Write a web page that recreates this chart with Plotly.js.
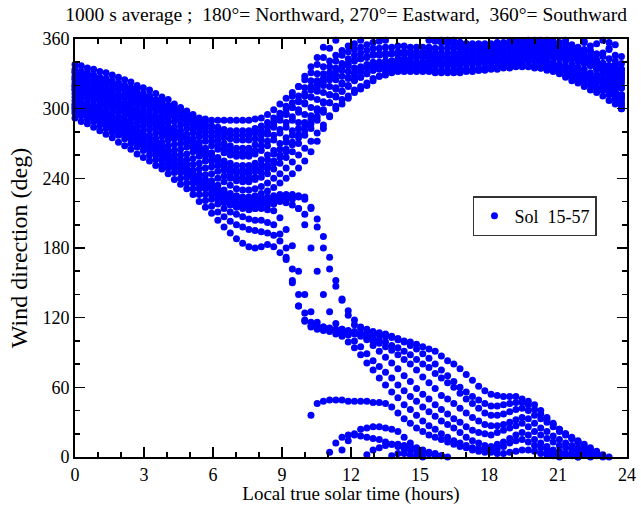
<!DOCTYPE html>
<html>
<head>
<meta charset="utf-8">
<script src="https://cdn.plot.ly/plotly-3.0.1.min.js"></script>
<style>
  html, body { margin: 0; padding: 0; background: #fff; }
  #chart { width: 641px; height: 505px; }
</style>
</head>
<body>
<div id="chart"></div>
<script>
// Local true solar time of each 1000 s average (hours)
const hours = [0,0.27,0.54,0.81,1.08,1.35,1.62,1.89,2.16,2.43,
  2.7,2.97,3.24,3.51,3.78,4.05,4.32,4.59,4.86,5.13,
  5.4,5.67,5.94,6.21,6.48,6.75,7.02,7.29,7.56,7.83,
  8.1,8.37,8.64,8.91,9.18,9.45,9.72,9.99,10.26,10.53,
  10.8,11.07,11.34,11.61,11.88,12.15,12.42,12.69,12.96,13.23,
  13.5,13.77,14.04,14.31,14.58,14.85,15.12,15.39,15.66,15.93,
  16.2,16.47,16.74,17.01,17.28,17.55,17.82,18.09,18.36,18.63,
  18.9,19.17,19.44,19.71,19.98,20.25,20.52,20.79,21.06,21.33,
  21.6,21.87,22.14,22.41,22.68,22.95,23.22,23.49,23.76];

// Wind direction (deg) per sol, one value per 1000 s average
const dir01 = [338,337,335,334,332,331,329,327,325,323,
  320,318,316,313,310,308,304,301,298,295,
  292,291,290,290,290,290,290,290,290,291,
  292,295,299,304,309,314,319,325,331,338,
  344,352,359,6,14,20,24,25,26,26,
  25,24,22,17,12,8,5,3,1,359,
  357,356,355,355,355,356,356,356,357,357,
  358,358,358,359,359,359,359,358,357,356,
  354,353,351,349,347,345,343,341,339];
const dir02 = [334,332,331,329,327,326,324,322,320,318,
  316,313,311,308,306,303,301,298,295,293,
  290,288,285,284,282,281,281,281,281,283,
  285,288,292,296,300,305,311,318,324,330,
  336,341,346,350,354,356,359,2,6,8,
  10,11,11,10,9,7,6,4,3,1,
  359,358,357,356,355,354,353,352,352,352,
  352,352,353,353,354,353,352,351,350,349,
  348,346,345,343,341,339,337,335,334];
const dir03 = [331,329,328,326,324,322,321,319,316,314,
  312,309,307,304,302,300,297,294,291,289,
  286,283,280,277,275,274,273,273,273,274,
  277,280,284,290,295,301,307,313,319,324,
  330,336,341,346,349,351,353,355,357,358,
  359,1,3,3,2,1,0,359,358,357,
  356,355,354,352,351,351,350,350,350,350,
  350,350,350,349,349,348,347,346,345,344,
  343,341,340,338,337,336,334,332,331];
const dir04 = [328,326,325,323,321,319,317,316,313,311,
  309,306,304,301,299,296,294,291,288,286,
  283,280,276,273,270,268,266,266,266,269,
  273,278,286,294,302,311,319,328,336,344,
  353,4,12,17,19,19,18,17,16,15,
  13,11,9,7,6,5,4,3,2,1,
  0,359,357,356,356,355,355,355,356,356,
  357,357,358,358,358,357,356,355,354,352,
  351,349,347,345,342,339,336,332,328];
const dir05 = [325,323,321,319,317,315,313,311,309,306,
  304,302,299,297,294,292,289,286,283,279,
  276,272,268,265,262,260,259,259,259,261,
  264,268,273,279,284,290,297,304,310,317,
  323,328,333,336,339,342,343,344,346,346,
  346,347,347,347,347,346,346,346,345,345,
  345,345,346,346,346,347,347,348,348,349,
  350,350,350,350,350,349,348,347,346,344,
  343,341,339,337,334,331,329,327,325];
const dir06 = [322,320,318,316,314,312,310,308,305,303,
  300,298,295,293,290,288,284,281,278,274,
  271,266,262,258,255,253,251,251,251,253,
  256,260,264,270,275,281,288,295,301,308,
  314,319,325,328,332,335,336,338,340,340,
  341,341,341,341,340,340,340,340,340,340,
  340,340,341,341,341,342,342,343,343,344,
  344,345,345,345,344,343,341,340,338,336,
  334,332,330,328,326,323,321,320,318];
const dir07 = [319,317,315,313,311,309,307,304,301,299,
  296,294,291,288,285,283,280,276,273,269,
  265,261,256,252,249,247,245,244,244,246,
  248,251,255,260,265,271,278,285,291,298,
  305,312,318,322,327,331,333,336,337,337,
  338,338,338,338,337,337,337,337,337,337,
  337,337,338,338,338,339,339,340,340,340,
  341,341,341,341,340,339,337,336,334,331,
  329,326,324,321,318,316,312,308,305];
const dir08 = [316,314,312,310,307,305,303,300,297,295,
  292,289,286,283,280,277,274,270,267,263,
  259,255,250,246,242,240,238,237,237,239,
  241,244,248,253,258,263,270,277,283,290,
  297,305,311,315,320,325,327,330,333,334,
  334,335,335,335,334,334,334,333,333,333,
  333,333,334,334,334,335,335,336,336,337,
  338,338,338,337,336,335,333,332,330,327,
  324,322,319,316,314,311,307,304,300];
const dir09 = [313,311,309,307,304,302,300,297,294,291,
  288,285,282,279,276,273,269,265,261,257,
  253,249,244,240,237,234,231,230,230,231,
  233,236,240,244,249,254,260,266,272,279,
  286,293,300,304,309,316,319,322,326,328,
  329,331,332,332,332,332,332,332,331,331,
  331,331,331,332,332,333,333,334,334,335,
  335,336,336,336,335,335,334,333,332,331,
  329,328,327,325,323,320,318,315,312];
const dir10 = [310,308,305,303,301,298,296,293,290,287,
  284,281,277,274,271,268,264,260,256,252,
  248,243,238,234,230,227,225,224,224,225,
  227,229,232,236,240,244,249,255,263,272,
  283,294,302,308,311,314,317,320,324,328,
  331,332,333,333,333,333,333,333,332,332,
  332,332,332,333,333,333,334,335,335,336,
  336,337,337,337,336,335,334,333,331,329,
  327,325,323,320,318,316,313,310,308];
const dir11 = [307,305,303,301,298,296,293,291,288,285,
  281,278,274,271,267,264,260,256,252,247,
  243,239,235,231,228,225,223,222,222,222,
  223,224,225,226,226,226,225,224,214,198,
  180,162,147,136,126,118,112,108,106,105,
  104,103,101,100,99,97,95,93,91,87,
  83,80,76,71,66,61,57,54,53,52,
  52,52,50,48,45,40,34,29,24,20,
  16,13,9,6,3,0,352,338,322];
const dir12 = [304,302,300,298,295,293,290,288,285,282,
  278,275,271,268,264,261,257,253,249,244,
  240,236,232,228,224,222,220,219,219,219,
  220,221,222,223,223,222,214,200,180,160,
  140,125,115,110,108,107,106,104,102,101,
  99,96,94,91,88,84,80,77,72,68,
  64,60,55,50,46,42,38,36,36,37,
  39,41,42,40,36,33,30,26,22,19,
  16,13,9,6,4,1,357,346,330];
const dir13 = [301,299,297,295,292,289,287,284,281,278,
  274,271,267,264,260,257,253,249,245,240,
  236,232,227,224,221,218,216,215,214,214,
  214,213,212,206,196,182,160,140,125,116,
  112,110,109,108,107,106,104,102,100,98,
  95,92,88,84,80,75,69,64,59,53,
  50,46,42,38,34,31,28,27,27,28,
  30,32,34,33,29,25,22,18,15,12,
  10,8,6,3,1,359,351,337,318];
const dir14 = [298,296,294,292,289,286,283,280,277,274,
  271,268,264,260,256,253,249,245,241,236,
  231,226,222,218,214,211,209,207,205,204,
  204,202,200,192,180,162,140,124,116,113,
  112,111,110,110,109,108,106,101,96,91,
  86,81,76,70,65,59,54,50,45,41,
  37,33,30,26,23,21,20,19,21,23,
  25,27,29,26,22,19,16,13,10,8,
  6,4,2,0,356,348,337,325,312];
const dir15 = [296,294,291,289,286,283,280,277,274,270,
  267,264,260,256,252,249,245,240,236,231,
  226,221,216,211,207,203,200,198,196,195,
  194,193,191,186,172,150,130,118,113,111,
  111,110,109,108,105,100,95,89,83,78,
  73,68,62,57,52,48,43,39,35,31,
  28,25,21,17,14,12,10,9,11,13,
  16,19,21,19,15,12,9,6,5,3,
  2,0,357,350,342,333,323,313,303];
const dir16 = [292,289,287,284,281,278,275,271,268,265,
  261,258,255,251,248,244,239,235,231,226,
  220,215,210,204,198,193,188,184,181,180,
  181,183,181,176,170,152,130,117,112,110,
  109,108,106,104,99,94,88,81,75,68,
  62,56,51,45,41,36,31,27,24,20,
  17,14,12,10,8,7,6,6,7,9,
  12,14,15,13,10,8,6,4,3,2,
  1,0,358,354,347,338,327,314,300];
const dir17 = [303,301,299,297,294,292,289,287,284,281,
  277,274,270,267,263,260,256,252,248,243,
  239,235,230,226,222,220,218,217,217,217,
  218,220,221,223,224,225,224,222,215,205,
  190,172,152,135,122,114,111,110,108,107,
  106,104,102,99,96,93,89,85,80,75,
  70,65,60,56,52,49,46,44,44,45,
  46,47,47,45,41,37,32,28,24,20,
  17,14,11,8,5,2,0,355,345];
const dir18 = [300,298,296,293,290,288,285,282,279,276,
  273,270,267,263,259,256,252,248,244,239,
  235,231,226,222,219,217,215,214,213,214,
  215,217,218,220,219,217,214,209,36,46,
  48,49,49,49,48,48,48,48,47,47,
  46,43,38,33,29,25,22,19,17,15,
  13,11,9,8,6,5,4,4,3,3,
  4,5,6,6,5,3,2,1,0,359,
  355,350,345,340,335,330,325,318,310];
const dir19 = [332,330,329,327,325,323,321,319,317,315,
  313,311,309,307,305,302,300,297,294,291,
  289,286,284,281,279,278,277,277,277,279,
  281,284,288,292,296,301,306,311,316,321,
  326,331,335,339,343,346,348,350,352,352,
  353,353,354,354,353,353,353,353,352,352,
  352,352,352,352,352,353,353,353,354,354,
  355,355,355,356,356,355,354,353,352,350,
  349,347,345,343,341,339,337,335,334];
const dir20 = [326,324,322,320,318,316,314,312,310,308,
  306,304,302,300,298,295,293,290,287,283,
  279,276,272,269,266,264,262,262,262,264,
  268,272,277,282,288,293,299,305,310,315,
  320,325,329,333,337,341,343,345,347,347,
  348,348,349,349,349,349,349,349,348,348,
  348,348,348,349,349,349,350,351,351,351,
  352,352,352,352,352,351,350,350,349,347,
  346,344,342,340,337,334,332,329,327];
const dir21 = [320,318,316,314,312,310,307,305,303,300,
  298,296,293,290,287,284,281,278,276,273,
  268,264,260,256,252,249,247,247,247,249,
  252,256,261,265,271,277,283,288,294,300,
  306,312,317,321,326,329,332,335,337,339,
  340,341,343,343,343,344,344,344,343,343,
  343,343,343,344,344,344,345,346,346,346,
  347,347,347,347,347,346,345,344,343,341,
  338,336,334,331,329,326,323,321,318];
const dir22 = [317,315,312,310,308,305,303,301,298,296,
  294,291,288,285,283,280,277,274,271,267,
  263,259,255,251,247,244,241,240,240,241,
  245,249,253,258,263,269,275,281,287,293,
  299,305,310,315,319,324,327,330,333,335,
  336,337,339,339,339,340,340,340,339,339,
  339,339,339,340,340,340,341,342,342,342,
  343,343,343,343,342,341,340,338,337,335,
  333,331,329,326,323,320,317,314,310];

const solSeries = [dir01, dir02, dir03, dir04, dir05, dir06, dir07, dir08, dir09,
  dir10, dir11, dir12, dir13, dir14, dir15, dir16, dir17, dir18,
  dir19, dir20, dir21, dir22];

const xTicks = [0, 3, 6, 9, 12, 15, 18, 21, 24];
const yTicks = [0, 60, 120, 180, 240, 300, 360];
const legendLabel = 'Sol\u00a0 15-57';

// every sol shares the same time grid; all samples go into a single marker trace
const xs = [];
const ys = [];
solSeries.forEach(series => {
  series.forEach((v, i) => { xs.push(hours[i]); ys.push(v); });
});

const serif = '"Liberation Serif", "Times New Roman", Times, serif';

const trace = {
  type: 'scatter',
  mode: 'markers',
  x: xs,
  y: ys,
  name: legendLabel,
  cliponaxis: false,
  marker: { color: 'rgb(0,0,255)', size: 7, line: { width: 0 } }
};

const axisCommon = {
  showgrid: false,
  zeroline: false,
  showline: true,
  linecolor: '#000',
  linewidth: 2,
  mirror: 'allticks',
  ticks: 'inside',
  ticklen: 10,
  tickwidth: 1.5,
  tickcolor: '#000',
  tickfont: { family: serif, size: 18, color: '#000' }
};

const layout = {
  width: 641,
  height: 505,
  margin: { l: 75, r: 14, t: 39, b: 48 },
  paper_bgcolor: '#fff',
  plot_bgcolor: '#fff',
  font: { family: serif, color: '#000' },
  title: {
    text: '1000 s average ;\u00a0 180°= Northward, 270°= Eastward,\u00a0 360°= Southward',
    font: { family: serif, size: 19.5, color: '#000' },
    xref: 'container', x: 0.54, xanchor: 'center',
    yref: 'container', y: 0.972, yanchor: 'middle'
  },
  xaxis: Object.assign({}, axisCommon, {
    range: [0, 24],
    tickvals: xTicks,
    ticktext: xTicks.map(String),
    minor: { dtick: 1, tick0: 0, ticks: 'inside', ticklen: 5, tickwidth: 1.5, tickcolor: '#000' },
    title: { text: 'Local true solar time (hours)', font: { family: serif, size: 19, color: '#000' }, standoff: 2 }
  }),
  yaxis: Object.assign({}, axisCommon, {
    range: [0, 360],
    tickvals: yTicks,
    ticktext: yTicks.map(String),
    minor: { dtick: 20, tick0: 0, ticks: 'inside', ticklen: 5, tickwidth: 1.5, tickcolor: '#000' },
    title: { text: 'Wind direction (deg)', font: { family: serif, size: 24, color: '#000' }, standoff: 8 }
  }),
  showlegend: true,
  legend: {
    x: 0.721, y: 0.624, xanchor: 'left', yanchor: 'top',
    bgcolor: '#fff', bordercolor: '#333', borderwidth: 1.5,
    font: { family: serif, size: 18, color: '#000' }
  }
};

Plotly.newPlot('chart', [trace], layout, { displayModeBar: false, staticPlot: true });
</script>
</body>
</html>
